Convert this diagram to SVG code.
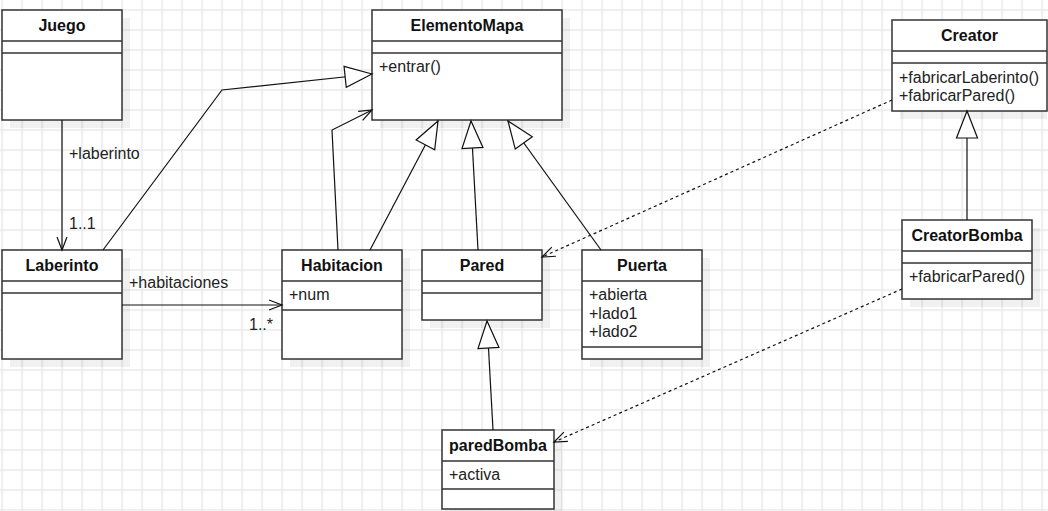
<svg xmlns="http://www.w3.org/2000/svg" width="1048" height="511" viewBox="0 0 1048 511">
<defs>
<pattern id="grid" x="1.25" y="9.25" width="20" height="20" patternUnits="userSpaceOnUse">
<rect x="0" y="0" width="1.5" height="20" fill="#e9e9e9"/>
<rect x="0" y="0" width="20" height="1.5" fill="#e9e9e9"/>
</pattern>
<marker id="tri" viewBox="-29 -12 31 24" refX="0" refY="0" markerWidth="31" markerHeight="24" markerUnits="userSpaceOnUse" orient="auto">
<path d="M0,0 L-27,-10.5 L-27,10.5 Z" fill="#fff" stroke="#111" stroke-width="1.2" stroke-dasharray="none"/>
</marker>
<marker id="open" viewBox="-15 -7 17 14" refX="0" refY="0" markerWidth="17" markerHeight="14" markerUnits="userSpaceOnUse" orient="auto">
<path d="M-13,-5 L0,0 L-13,5" fill="none" stroke="#111" stroke-width="1.2" stroke-dasharray="none"/>
</marker>
</defs>
<style>
.shadow{fill:#000;fill-opacity:0.055;stroke:none}
.box{fill:#fff;stroke:#333;stroke-width:1.5}
.div{stroke:#333;stroke-width:1.5;fill:none}
.title{font-family:"Liberation Sans",Arial,sans-serif;font-size:16px;font-weight:bold;fill:#111;text-anchor:middle}
.attr{font-family:"Liberation Sans",Arial,sans-serif;font-size:16px;fill:#222}
.lbl{font-family:"Liberation Sans",Arial,sans-serif;font-size:16px;fill:#222}
.edge{fill:none;stroke:#111;stroke-width:1.2}
.dash{stroke-dasharray:3 3}
</style>
<rect width="1048" height="511" fill="#fff"/>
<rect width="1048" height="511" fill="url(#grid)"/>

<g id="Juego">
<rect class="shadow" x="10" y="18" width="120" height="110"/>
<rect class="box" x="2" y="10" width="120" height="110"/>
<path class="div" d="M2,41 H122 M2,53 H122"/>
<text class="title" x="62" y="31">Juego</text>
</g>

<g id="ElementoMapa">
<rect class="shadow" x="380" y="18" width="190" height="110"/>
<rect class="box" x="372" y="10" width="190" height="110"/>
<path class="div" d="M372,41 H562 M372,53 H562"/>
<text class="title" x="467" y="31">ElementoMapa</text>
<text class="attr" x="379" y="72">+entrar()</text>
</g>

<g id="Creator">
<rect class="shadow" x="900" y="28" width="147" height="91"/>
<rect class="box" x="892" y="20" width="155" height="91"/>
<path class="div" d="M892,51 H1047 M892,63 H1047"/>
<text class="title" x="969.5" y="41">Creator</text>
<text class="attr" x="899" y="82.5">+fabricarLaberinto()</text>
<text class="attr" x="899" y="101">+fabricarPared()</text>
</g>

<g id="CreatorBomba">
<rect class="shadow" x="910" y="228" width="130" height="79"/>
<rect class="box" x="902" y="220" width="130" height="79"/>
<path class="div" d="M902,251 H1032 M902,263 H1032"/>
<text class="title" x="967" y="241">CreatorBomba</text>
<text class="attr" x="909" y="282">+fabricarPared()</text>
</g>

<g id="Laberinto">
<rect class="shadow" x="10" y="258" width="120" height="109"/>
<rect class="box" x="2" y="250" width="120" height="109"/>
<path class="div" d="M2,281 H122 M2,293 H122"/>
<text class="title" x="62" y="271">Laberinto</text>
</g>

<g id="Habitacion">
<rect class="shadow" x="290" y="258" width="120" height="109"/>
<rect class="box" x="282" y="250" width="120" height="109"/>
<path class="div" d="M282,281 H402 M282,310 H402"/>
<text class="title" x="342" y="271">Habitacion</text>
<text class="attr" x="289" y="300">+num</text>
</g>

<g id="Pared">
<rect class="shadow" x="430" y="258" width="120" height="70"/>
<rect class="box" x="422" y="250" width="120" height="70"/>
<path class="div" d="M422,281 H542 M422,293 H542"/>
<text class="title" x="482" y="271">Pared</text>
</g>

<g id="Puerta">
<rect class="shadow" x="590" y="258" width="120" height="109"/>
<rect class="box" x="582" y="250" width="120" height="109"/>
<path class="div" d="M582,281 H702 M582,347 H702"/>
<text class="title" x="642" y="271">Puerta</text>
<text class="attr" x="589" y="300">+abierta</text>
<text class="attr" x="589" y="318.5">+lado1</text>
<text class="attr" x="589" y="337">+lado2</text>
</g>

<g id="paredBomba">
<rect class="shadow" x="450" y="438" width="112" height="79"/>
<rect class="box" x="442" y="430" width="112" height="79"/>
<path class="div" d="M442,461 H554 M442,489 H554"/>
<text class="title" x="498" y="451">paredBomba</text>
<text class="attr" x="449" y="480">+activa</text>
</g>

<g id="connectors">
<path class="edge" d="M62,120 V250" marker-end="url(#open)"/>
<text class="lbl" x="69" y="159">+laberinto</text>
<text class="lbl" x="69" y="229">1..1</text>
<path class="edge" d="M122,305 H282" marker-end="url(#open)"/>
<text class="lbl" x="129" y="288">+habitaciones</text>
<text class="lbl" x="249" y="330">1..*</text>
<path class="edge" d="M338,250 L332,130 L372,110" marker-end="url(#open)"/>
<path class="edge" d="M103,250 L222,90 L372,74" marker-end="url(#tri)"/>
<path class="edge" d="M370,250 L438,121" marker-end="url(#tri)"/>
<path class="edge" d="M478,250 L471,121" marker-end="url(#tri)"/>
<path class="edge" d="M601,250 L508,121" marker-end="url(#tri)"/>
<path class="edge" d="M967,220 V111" marker-end="url(#tri)"/>
<path class="edge" d="M493,430 L487,321" marker-end="url(#tri)"/>
<path class="edge dash" d="M892,100 L542,257" marker-end="url(#open)"/>
<path class="edge dash" d="M902,289 L554,442" marker-end="url(#open)"/>
</g>
</svg>
